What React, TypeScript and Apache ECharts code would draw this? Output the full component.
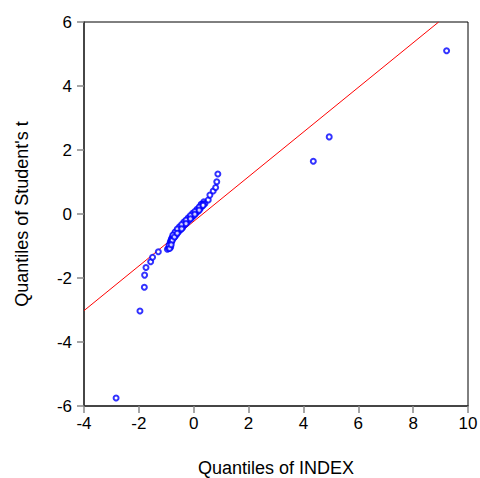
import React, { useEffect, useRef } from "react";
import * as echarts from "echarts";

// Quantile pairs: [Quantiles of INDEX, Quantiles of Student's t]
const tailLow: number[][] = [
  [-2.83, -5.75], [-1.96, -3.03], [-1.80, -2.29], [-1.79, -1.91], [-1.74, -1.67],
  [-1.57, -1.49], [-1.50, -1.35], [-1.29, -1.18],
];

const bodyA: number[][] = [
  [-0.96, -1.10], [-0.92, -1.06], [-0.88, -1.01], [-0.84, -1.04], [-0.86, -0.95],
  [-0.86, -0.89], [-0.84, -0.85], [-0.82, -0.80], [-0.80, -0.76], [-0.77, -0.72],
  [-0.74, -0.68], [-0.70, -0.63], [-0.66, -0.59], [-0.62, -0.55], [-0.58, -0.51],
  [-0.54, -0.47], [-0.50, -0.44], [-0.46, -0.41], [-0.42, -0.37], [-0.38, -0.34],
  [-0.34, -0.30], [-0.30, -0.27], [-0.26, -0.24], [-0.22, -0.20], [-0.18, -0.17],
  [-0.14, -0.13], [-0.10, -0.10], [-0.06, -0.06], [-0.02, -0.03], [0.02, 0.01],
  [0.06, 0.04], [0.10, 0.08], [0.14, 0.11], [0.18, 0.15], [0.22, 0.19],
  [0.26, 0.24], [0.29, 0.28], [0.33, 0.32], [0.37, 0.38], [0.41, 0.33],
];

const bodyB: number[][] = [
  [-0.80, -0.86], [-0.72, -0.74], [-0.64, -0.66], [-0.56, -0.56], [-0.48, -0.49],
  [-0.40, -0.42], [-0.32, -0.33], [-0.24, -0.26], [-0.16, -0.19], [-0.08, -0.12],
  [0.00, -0.05], [0.08, 0.02], [0.16, 0.09], [0.24, 0.17], [0.31, 0.25],
  [-0.68, -0.56], [-0.52, -0.40], [-0.36, -0.25], [-0.20, -0.12], [-0.04, 0.02],
  [0.12, 0.15], [0.27, 0.30],
  [-0.90, -0.98], [-0.78, -0.82], [-0.76, -0.66], [-0.60, -0.47], [-0.44, -0.33],
  [-0.28, -0.19], [-0.12, -0.05], [0.04, 0.08], [0.20, 0.22], [0.35, 0.30],
  [-0.70, -0.72], [-0.60, -0.60], [-0.44, -0.46], [-0.28, -0.30], [-0.12, -0.15],
  [0.04, -0.01], [0.20, 0.12], [0.34, 0.27], [-0.88, -1.08], [-0.82, -0.96],
];

const tailHigh: number[][] = [
  [0.53, 0.44], [0.59, 0.59], [0.71, 0.72], [0.80, 0.83], [0.84, 1.01],
  [0.88, 1.25], [4.36, 1.65], [4.94, 2.41], [9.22, 5.10],
];

const qqPoints: number[][] = [...tailLow, ...bodyA, ...bodyB, ...tailHigh];

// Reference line endpoints
const refLine: number[][] = [
  [-4, -3.02],
  [8.93, 6],
];

const xAxisName = "Quantiles of INDEX";
const yAxisName = "Quantiles of Student's t";

const FONT = "'Liberation Sans', Arial, sans-serif";

export default function App() {
  const ref = useRef<HTMLDivElement>(null);
  useEffect(() => {
    if (!ref.current) return;
    const chart = echarts.init(ref.current, undefined, { renderer: "svg" });
    const axisCommon = {
      axisLine: { show: true, onZero: false, lineStyle: { color: "#333", width: 1.5 } },
      axisTick: { show: true, inside: false, length: 7, lineStyle: { color: "#888", width: 1.5 } },
      splitLine: { show: false },
      axisLabel: { color: "#000", fontSize: 17, fontFamily: FONT },
      nameTextStyle: { color: "#000", fontSize: 18, fontFamily: FONT },
    };
    chart.setOption({
      animation: false,
      backgroundColor: "#fff",
      grid: {
        left: 84,
        top: 22,
        right: 12,
        bottom: 72,
        show: true,
        borderColor: "#000",
        borderWidth: 1,
        backgroundColor: "transparent",
        containLabel: false,
        outerBoundsMode: "none",
      },
      xAxis: {
        type: "value",
        min: -4,
        max: 10,
        interval: 2,
        name: xAxisName,
        nameLocation: "middle",
        nameGap: 53,
        ...axisCommon,
        axisLabel: { ...axisCommon.axisLabel, margin: 9 },
      },
      yAxis: {
        type: "value",
        min: -6,
        max: 6,
        interval: 2,
        name: yAxisName,
        nameLocation: "middle",
        nameGap: 53,
        ...axisCommon,
        axisLabel: { ...axisCommon.axisLabel, margin: 12 },
      },
      series: [
        {
          type: "line",
          data: refLine,
          symbol: "none",
          lineStyle: { color: "#ff0000", width: 1 },
          z: 1,
        },
        {
          type: "scatter",
          data: qqPoints,
          symbol: "emptyCircle",
          symbolSize: 5,
          itemStyle: { color: "#0000ff", borderColor: "#0000ff", borderWidth: 1.2 },
          z: 2,
        },
      ],
    });
    return () => chart.dispose();
  }, []);
  return <div ref={ref} style={{ width: 480, height: 478, position: "absolute", left: 0, top: 0 }} />;
}
